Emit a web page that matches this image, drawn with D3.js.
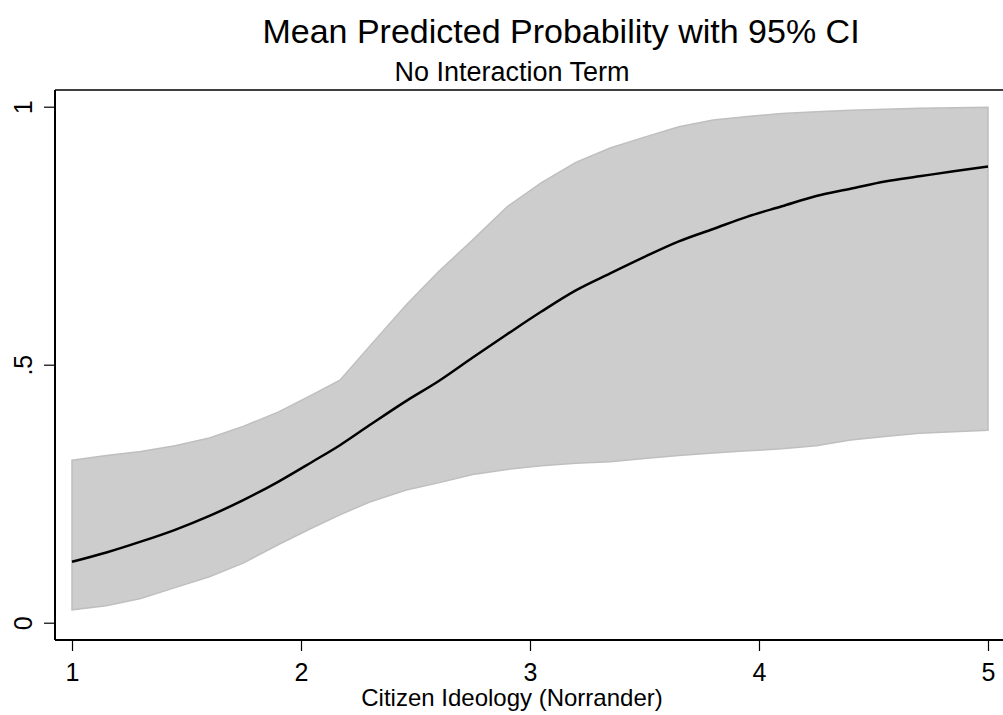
<!DOCTYPE html>
<html>
<head>
<meta charset="utf-8">
<script src="https://cdn.jsdelivr.net/npm/d3@7"></script>
<style>
  body { margin: 0; background: white; }
  svg { display: block; font-family: "Liberation Sans", Arial, sans-serif; }
</style>
</head>
<body>
<svg id="chart" width="1003" height="715"></svg>
<script>
'use strict';
var ideology = [1.0, 1.15, 1.3, 1.45, 1.6, 1.75, 1.9, 2.05, 2.17, 2.3, 2.46, 2.6, 2.75, 2.9,
  3.05, 3.2, 3.35, 3.5, 3.65, 3.8, 3.95, 4.1, 4.25, 4.4, 4.55, 4.7, 4.85, 5.0];
var meanProb = [0.118, 0.136, 0.157, 0.180, 0.207, 0.238, 0.273, 0.312, 0.344, 0.383, 0.430, 0.468, 0.514, 0.559,
  0.603, 0.644, 0.677, 0.709, 0.739, 0.763, 0.787, 0.807, 0.827, 0.841, 0.855, 0.865, 0.875, 0.884];
var upperCI = [0.315, 0.324, 0.332, 0.343, 0.358, 0.381, 0.408, 0.442, 0.470, 0.536, 0.616, 0.680, 0.742, 0.806,
  0.853, 0.892, 0.920, 0.941, 0.961, 0.974, 0.981, 0.987, 0.990, 0.993, 0.995, 0.997, 0.998, 0.999];
var lowerCI = [0.025, 0.033, 0.047, 0.068, 0.089, 0.116, 0.151, 0.184, 0.209, 0.234, 0.257, 0.271, 0.287, 0.297,
  0.304, 0.309, 0.312, 0.318, 0.324, 0.329, 0.333, 0.337, 0.343, 0.354, 0.361, 0.367, 0.370, 0.373];
var xTicks = [1, 2, 3, 4, 5];
var yTicks = [0, 0.5, 1];
var yTickLabels = ['0', '.5', '1'];

var rows = ideology.map((d, i) => ({ x: d, m: meanProb[i], lo: lowerCI[i], hi: upperCI[i] }));

const frame = { left: 55, top: 90, bottom: 640 };
const font = '"Liberation Sans", Arial, sans-serif';
var x = d3.scaleLinear().domain([1, 5]).range([72, 988]);
var y = d3.scaleLinear().domain([0, 1]).range([622.7, 106.7]);

var svg = d3.select('#chart');

svg.append('text')
  .attr('x', 561).attr('y', 43)
  .attr('text-anchor', 'middle')
  .attr('font-size', 34)
  .text('Mean Predicted Probability with 95% CI');
svg.append('text')
  .attr('x', 512).attr('y', 81)
  .attr('text-anchor', 'middle')
  .attr('font-size', 27)
  .text('No Interaction Term');

// top edge of the plot region (right edge falls outside the picture)
svg.append('line')
  .attr('x1', frame.left).attr('x2', 1003)
  .attr('y1', frame.top).attr('y2', frame.top)
  .attr('stroke', 'black').attr('stroke-width', 1.5);

svg.append('path')
  .datum(rows)
  .attr('fill', '#cdcdcd')
  .attr('stroke', '#bfbfbf')
  .attr('stroke-width', 1.5)
  .attr('d', d3.area().x(d => x(d.x)).y0(d => y(d.lo)).y1(d => y(d.hi)));

svg.append('path')
  .datum(rows)
  .attr('fill', 'none')
  .attr('stroke', 'black')
  .attr('stroke-width', 2.5)
  .attr('d', d3.line().curve(d3.curveMonotoneX).x(d => x(d.x)).y(d => y(d.m)));

var gx = svg.append('g')
  .attr('transform', `translate(0, ${frame.bottom})`)
  .call(d3.axisBottom(x).tickValues(xTicks).tickFormat(d3.format('d')).tickSize(11).tickSizeOuter(0));
gx.select('.domain').attr('stroke-width', 2).attr('d', `M${frame.left},0H1003`);
gx.selectAll('.tick line').attr('stroke-width', 1.2);
gx.selectAll('.tick text')
  .attr('font-size', 25).attr('dy', 0).attr('y', 41).attr('fill', 'black')
  .attr('font-family', font);

var gy = svg.append('g')
  .attr('transform', `translate(${frame.left}, 0)`)
  .call(d3.axisLeft(y).tickValues(yTicks).tickFormat((d, i) => yTickLabels[i]).tickSize(11).tickSizeOuter(0));
gy.select('.domain').attr('stroke-width', 2).attr('d', `M0,${frame.top}V${frame.bottom}`);
gy.selectAll('.tick line').attr('stroke-width', 1.2);
gy.selectAll('.tick text')
  .attr('font-size', 25).attr('fill', 'black')
  .attr('font-family', font)
  .attr('x', null).attr('dy', null)
  .attr('text-anchor', 'middle')
  .attr('transform', 'translate(-23, 0) rotate(-90)');

svg.append('text')
  .attr('x', 512).attr('y', 706)
  .attr('text-anchor', 'middle')
  .attr('font-size', 24)
  .text('Citizen Ideology (Norrander)');
</script>
</body>
</html>
